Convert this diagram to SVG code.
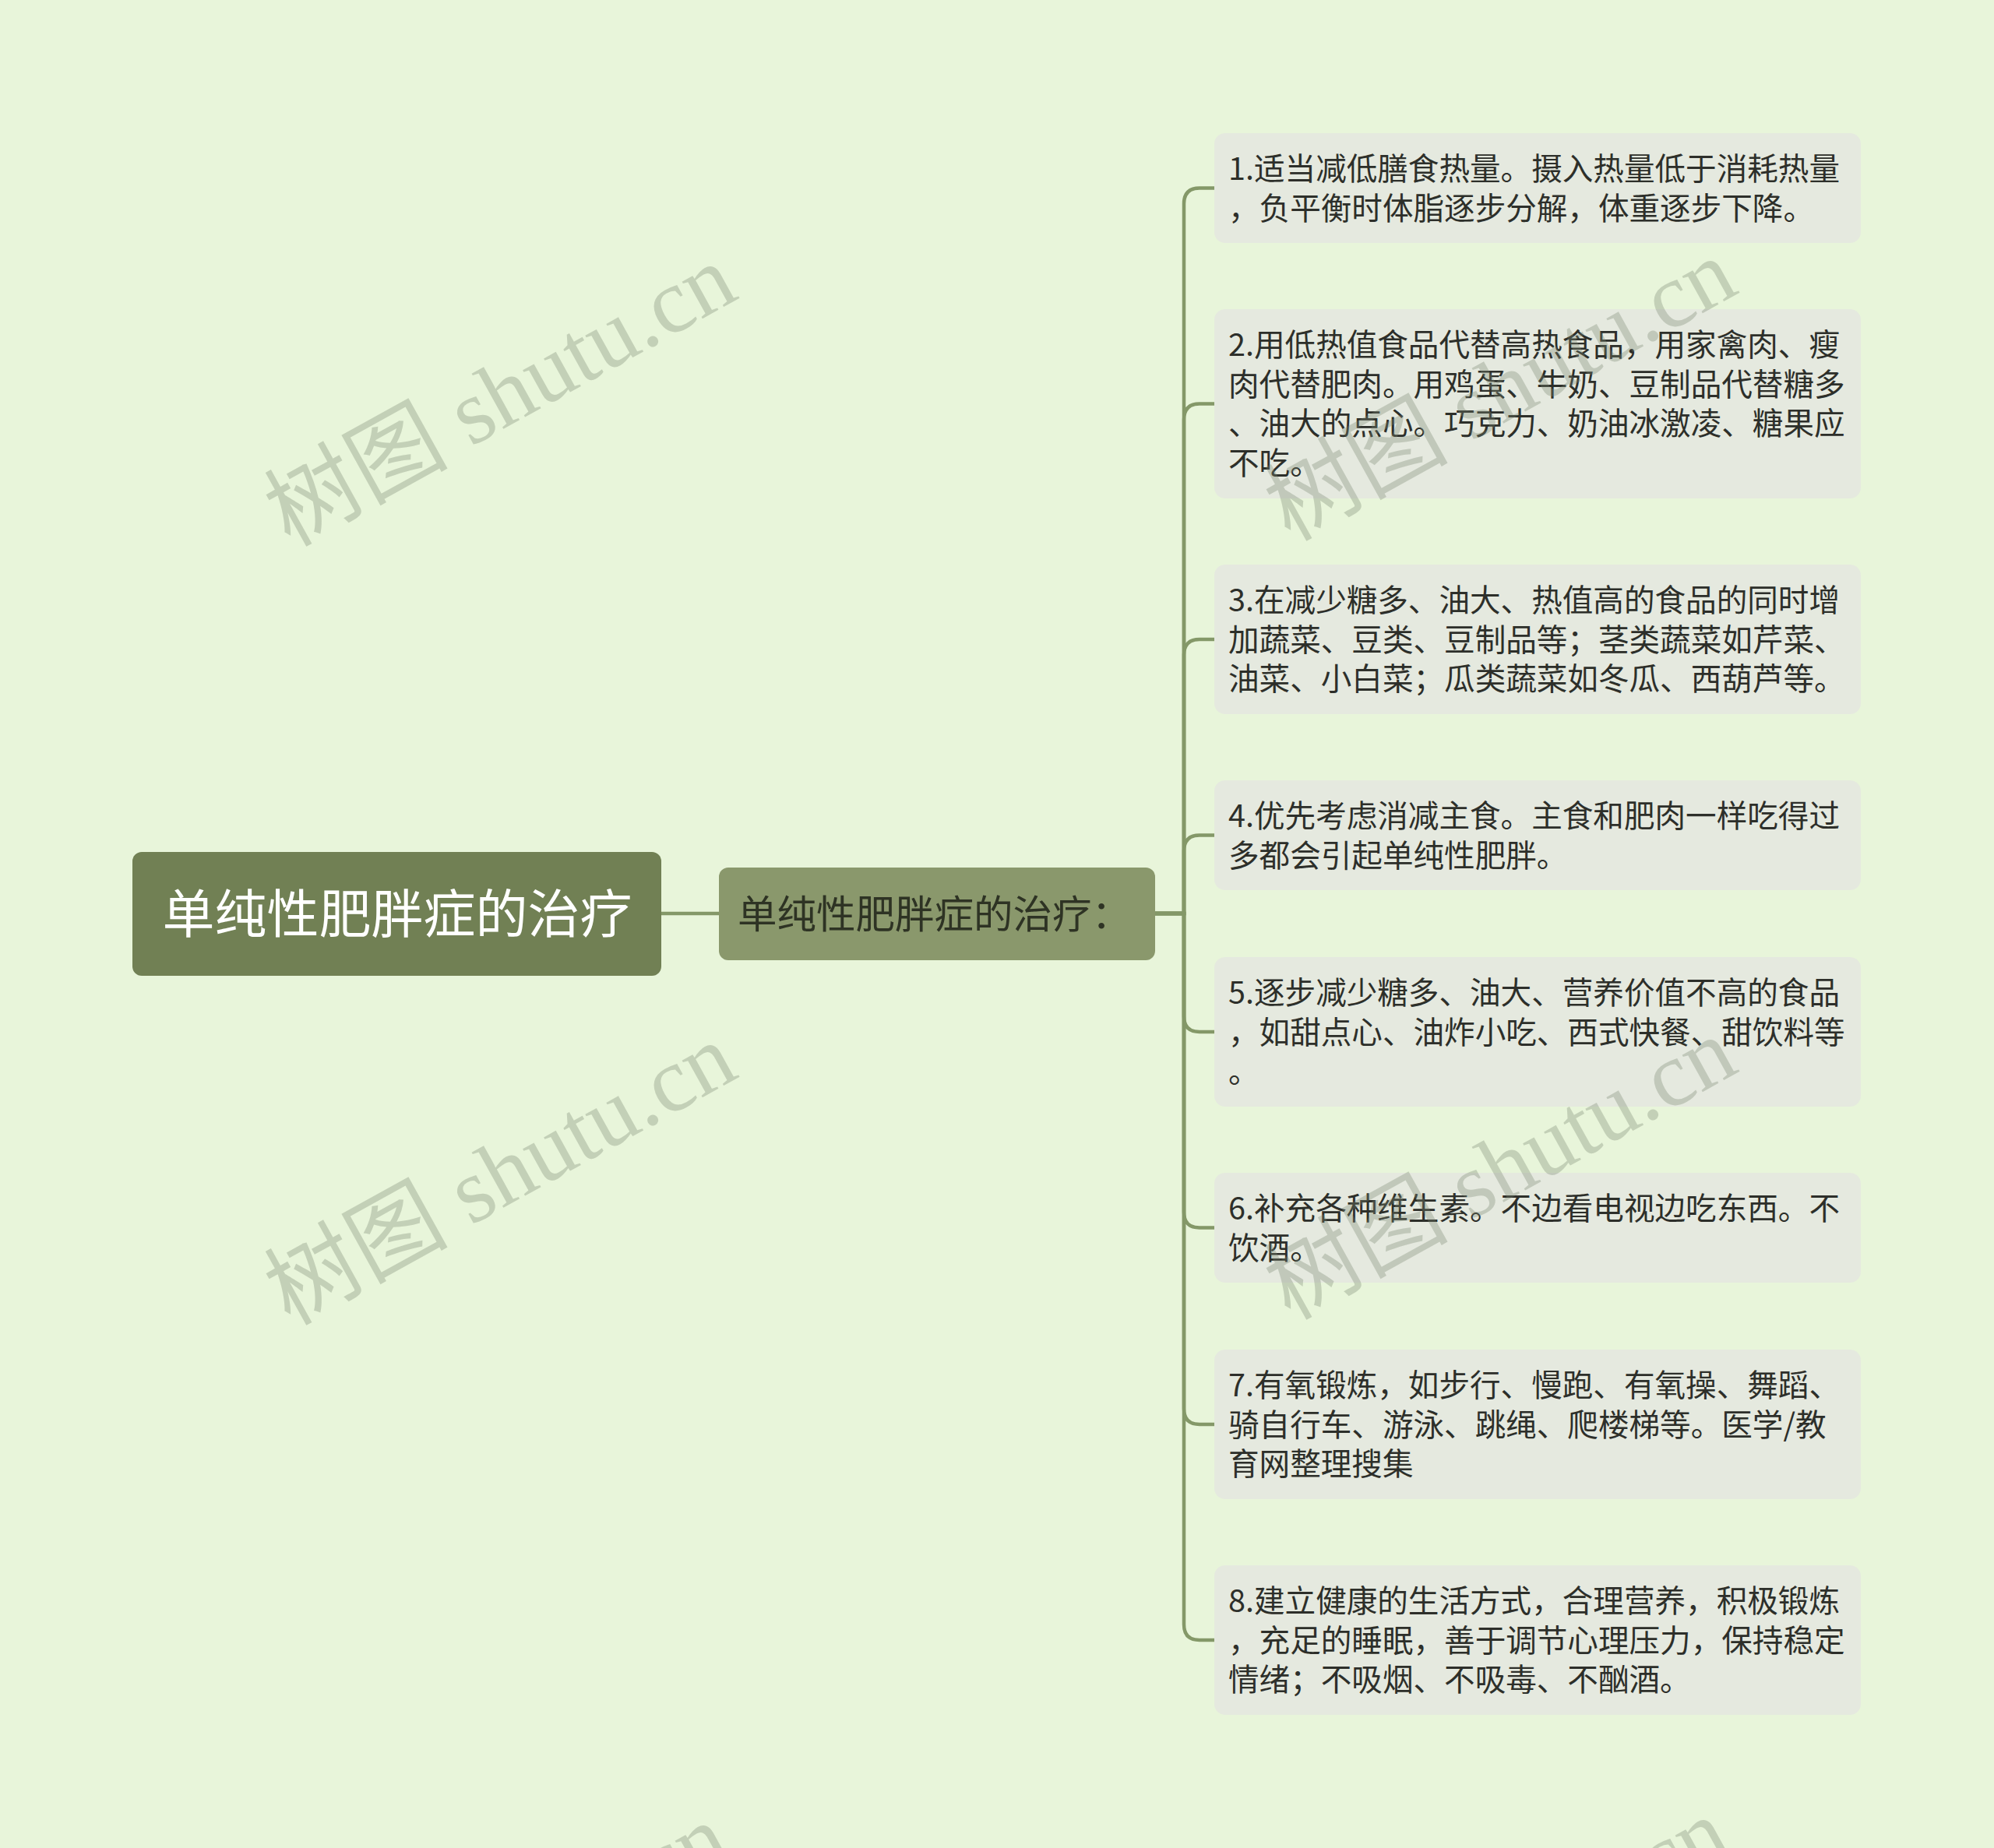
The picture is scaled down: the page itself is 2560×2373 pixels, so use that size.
<svg xmlns="http://www.w3.org/2000/svg" width="2560" height="2373" viewBox="0 0 2560 2373">
<defs>
<style>
.bg{fill:#e8f5da}
.root rect{fill:#718054}
.root text{fill:#ffffff;font-family:"Noto Sans CJK SC","Noto Sans",sans-serif;font-size:67px;text-anchor:middle}
.mid rect{fill:#8a986c}
.mid text{fill:#2e3324;font-family:"Noto Sans CJK SC","Noto Sans",sans-serif;font-size:50.5px}
.leaf rect{fill:#e5e9df}
.leaf text{fill:#2d2f2a;font-family:"Noto Sans CJK SC","Noto Sans",sans-serif;font-size:39.6px}
.conn path{fill:none;stroke:#849868;stroke-width:4.5;stroke-linecap:round}
.wm text{fill:#7a8670;fill-opacity:0.33;font-family:"Liberation Serif","Noto Sans CJK SC",serif;font-size:118px}
</style>
</defs>
<rect class="bg" x="0" y="0" width="2560" height="2373"/>

<g id="connectors" class="conn">
<path d="M849 1173 H923"/>
<path d="M1483 1173 H1520 V261.5 Q1520 241.5 1540 241.5 H1559"/>
<path d="M1483 1173 H1520 V538.5 Q1520 518.5 1540 518.5 H1559"/>
<path d="M1483 1173 H1520 V841 Q1520 821 1540 821 H1559"/>
<path d="M1483 1173 H1520 V1092.5 Q1520 1072.5 1540 1072.5 H1559"/>
<path d="M1483 1173 H1520 V1305 Q1520 1325 1540 1325 H1559"/>
<path d="M1483 1173 H1520 V1556.5 Q1520 1576.5 1540 1576.5 H1559"/>
<path d="M1483 1173 H1520 V1809 Q1520 1829 1540 1829 H1559"/>
<path d="M1483 1173 H1520 V2086 Q1520 2106 1540 2106 H1559"/>
</g>

<g id="root" class="root">
<rect x="170" y="1094" width="679" height="159" rx="12"/>
<text x="510" y="1198">单纯性肥胖症的治疗</text>
</g>

<g id="mid" class="mid">
<rect x="923" y="1114" width="560" height="119" rx="12"/>
<text x="947" y="1192">单纯性肥胖症的治疗：</text>
</g>

<g id="leaf1" class="leaf">
<rect x="1559" y="171" width="830" height="141" rx="14"/>
<text x="1577" y="231">1.适当减低膳食热量。摄入热量低于消耗热量</text>
<text x="1577" y="282">，负平衡时体脂逐步分解，体重逐步下降。</text>
</g>

<g id="leaf2" class="leaf">
<rect x="1559" y="397" width="830" height="243" rx="14"/>
<text x="1577" y="457">2.用低热值食品代替高热食品，用家禽肉、瘦</text>
<text x="1577" y="508">肉代替肥肉。用鸡蛋、牛奶、豆制品代替糖多</text>
<text x="1577" y="558">、油大的点心。巧克力、奶油冰激凌、糖果应</text>
<text x="1577" y="609">不吃。</text>
</g>

<g id="leaf3" class="leaf">
<rect x="1559" y="725" width="830" height="192" rx="14"/>
<text x="1577" y="785">3.在减少糖多、油大、热值高的食品的同时增</text>
<text x="1577" y="836">加蔬菜、豆类、豆制品等；茎类蔬菜如芹菜、</text>
<text x="1577" y="886">油菜、小白菜；瓜类蔬菜如冬瓜、西葫芦等。</text>
</g>

<g id="leaf4" class="leaf">
<rect x="1559" y="1002" width="830" height="141" rx="14"/>
<text x="1577" y="1062">4.优先考虑消减主食。主食和肥肉一样吃得过</text>
<text x="1577" y="1113">多都会引起单纯性肥胖。</text>
</g>

<g id="leaf5" class="leaf">
<rect x="1559" y="1229" width="830" height="192" rx="14"/>
<text x="1577" y="1289">5.逐步减少糖多、油大、营养价值不高的食品</text>
<text x="1577" y="1340">，如甜点心、油炸小吃、西式快餐、甜饮料等</text>
<text x="1577" y="1390">。</text>
</g>

<g id="leaf6" class="leaf">
<rect x="1559" y="1506" width="830" height="141" rx="14"/>
<text x="1577" y="1566">6.补充各种维生素。不边看电视边吃东西。不</text>
<text x="1577" y="1617">饮酒。</text>
</g>

<g id="leaf7" class="leaf">
<rect x="1559" y="1733" width="830" height="192" rx="14"/>
<text x="1577" y="1793">7.有氧锻炼，如步行、慢跑、有氧操、舞蹈、</text>
<text x="1577" y="1844">骑自行车、游泳、跳绳、爬楼梯等。医学/教</text>
<text x="1577" y="1894">育网整理搜集</text>
</g>

<g id="leaf8" class="leaf">
<rect x="1559" y="2010" width="830" height="192" rx="14"/>
<text x="1577" y="2070">8.建立健康的生活方式，合理营养，积极锻炼</text>
<text x="1577" y="2121">，充足的睡眠，善于调节心理压力，保持稳定</text>
<text x="1577" y="2171">情绪；不吸烟、不吸毒、不酗酒。</text>
</g>

<g id="watermarks" class="wm">
<text transform="translate(372 703) rotate(-29)">树图 shutu.cn</text>
<text transform="translate(1656 696) rotate(-29)">树图 shutu.cn</text>
<text transform="translate(372 1703) rotate(-29)">树图 shutu.cn</text>
<text transform="translate(1656 1696) rotate(-29)">树图 shutu.cn</text>
<text transform="translate(363 2705) rotate(-29)">树图 shutu.cn</text>
<text transform="translate(1647 2698) rotate(-29)">树图 shutu.cn</text>
</g>
</svg>
